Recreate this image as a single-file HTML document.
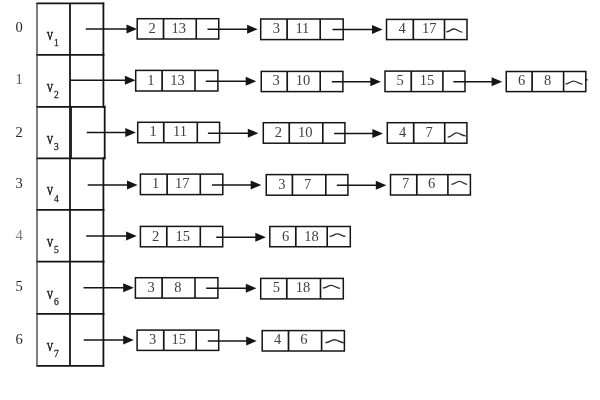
<!DOCTYPE html>
<html><head><meta charset="utf-8"><style>
html,body{margin:0;padding:0;background:#fff;}
body{width:600px;height:400px;overflow:hidden;}
svg{display:block;}
text{font-family:"Liberation Serif",serif;fill:#404040;}
text.v{fill:#1a1a1a;stroke:#1a1a1a;stroke-width:0.6;}
text.lab{fill:#2a2a2a;}
text.l1{fill:#555;}
text.l4{fill:#7a7a7a;}
text.sub{fill:#222;stroke:#333;stroke-width:0.3;}
svg{filter:grayscale(1) blur(0.3px);}
</style></head><body>
<svg width="600" height="400" viewBox="0 0 600 400">
<line x1="36.3" y1="3.4" x2="104.2" y2="3.4" stroke="#151515" stroke-width="1.8"/>
<line x1="36.3" y1="54.8" x2="104.2" y2="54.8" stroke="#151515" stroke-width="1.8"/>
<line x1="36.3" y1="106.8" x2="104.2" y2="106.8" stroke="#151515" stroke-width="1.8"/>
<line x1="36.3" y1="158.3" x2="104.2" y2="158.3" stroke="#151515" stroke-width="1.8"/>
<line x1="36.3" y1="209.8" x2="104.2" y2="209.8" stroke="#151515" stroke-width="1.8"/>
<line x1="36.3" y1="261.7" x2="104.2" y2="261.7" stroke="#151515" stroke-width="1.8"/>
<line x1="36.3" y1="313.9" x2="104.2" y2="313.9" stroke="#151515" stroke-width="1.8"/>
<line x1="36.3" y1="365.8" x2="104.2" y2="365.8" stroke="#151515" stroke-width="1.8"/>
<line x1="37" y1="3.4" x2="37" y2="365.8" stroke="#3a3a3a" stroke-width="1.3"/>
<line x1="70" y1="3.4" x2="70" y2="365.8" stroke="#151515" stroke-width="1.8"/>
<line x1="103.4" y1="2.5" x2="103.4" y2="55.699999999999996" stroke="#151515" stroke-width="1.8"/>
<line x1="103.4" y1="53.9" x2="103.4" y2="107.7" stroke="#151515" stroke-width="1.8"/>
<line x1="104.7" y1="105.89999999999999" x2="104.7" y2="159.20000000000002" stroke="#151515" stroke-width="1.8"/>
<line x1="103.4" y1="157.4" x2="103.4" y2="210.70000000000002" stroke="#151515" stroke-width="1.8"/>
<line x1="103.4" y1="208.9" x2="103.4" y2="262.59999999999997" stroke="#151515" stroke-width="1.8"/>
<line x1="103.4" y1="260.8" x2="103.4" y2="314.79999999999995" stroke="#151515" stroke-width="1.8"/>
<line x1="103.4" y1="313.0" x2="103.4" y2="366.7" stroke="#151515" stroke-width="1.8"/>
<line x1="71.2" y1="106.8" x2="71.2" y2="158.3" stroke="#151515" stroke-width="1.4"/>
<line x1="103" y1="106.8" x2="105.5" y2="106.8" stroke="#151515" stroke-width="1.8"/>
<line x1="103" y1="158.3" x2="105.5" y2="158.3" stroke="#151515" stroke-width="1.8"/>
<text class="lab l0" x="19.00" y="32.30" font-size="14.5" text-anchor="middle">0</text>
<text class="v" x="50" y="40.10" font-size="13.5" text-anchor="middle" transform="translate(50 0) scale(0.66 1) translate(-50 0)">V</text>
<text class="sub" x="56.40" y="46.20" font-size="9.5" text-anchor="middle">1</text>
<text class="lab l1" x="19.00" y="84.00" font-size="14.5" text-anchor="middle">1</text>
<text class="v" x="50" y="91.70" font-size="13.5" text-anchor="middle" transform="translate(50 0) scale(0.66 1) translate(-50 0)">V</text>
<text class="sub" x="56.40" y="97.70" font-size="9.5" text-anchor="middle">2</text>
<text class="lab l2" x="19.00" y="136.50" font-size="14.5" text-anchor="middle">2</text>
<text class="v" x="50" y="143.55" font-size="13.5" text-anchor="middle" transform="translate(50 0) scale(0.66 1) translate(-50 0)">V</text>
<text class="sub" x="56.40" y="149.60" font-size="9.5" text-anchor="middle">3</text>
<text class="lab l3" x="19.00" y="188.30" font-size="14.5" text-anchor="middle">3</text>
<text class="v" x="50" y="195.40" font-size="13.5" text-anchor="middle" transform="translate(50 0) scale(0.66 1) translate(-50 0)">V</text>
<text class="sub" x="56.40" y="202.10" font-size="9.5" text-anchor="middle">4</text>
<text class="lab l4" x="19.00" y="240.00" font-size="14.5" text-anchor="middle">4</text>
<text class="v" x="50" y="247.30" font-size="13.5" text-anchor="middle" transform="translate(50 0) scale(0.66 1) translate(-50 0)">V</text>
<text class="sub" x="56.40" y="253.35" font-size="9.5" text-anchor="middle">5</text>
<text class="lab l5" x="19.00" y="290.50" font-size="14.5" text-anchor="middle">5</text>
<text class="v" x="50" y="299.20" font-size="13.5" text-anchor="middle" transform="translate(50 0) scale(0.66 1) translate(-50 0)">V</text>
<text class="sub" x="56.40" y="304.60" font-size="9.5" text-anchor="middle">6</text>
<text class="lab l6" x="19.00" y="343.50" font-size="14.5" text-anchor="middle">6</text>
<text class="v" x="50" y="351.05" font-size="13.5" text-anchor="middle" transform="translate(50 0) scale(0.66 1) translate(-50 0)">V</text>
<text class="sub" x="56.40" y="357.10" font-size="9.5" text-anchor="middle">7</text>
<line x1="85.8" y1="29" x2="127.5" y2="29" stroke="#151515" stroke-width="1.5"/>
<path d="M126.50 24.50L137.10 29L126.50 33.50Z" fill="#151515"/>
<line x1="70" y1="80.3" x2="125.9" y2="80.3" stroke="#151515" stroke-width="1.5"/>
<path d="M124.90 75.80L135.50 80.3L124.90 84.80Z" fill="#151515"/>
<line x1="86.8" y1="132.5" x2="126.30000000000001" y2="132.5" stroke="#151515" stroke-width="1.5"/>
<path d="M125.30 128.00L135.90 132.5L125.30 137.00Z" fill="#151515"/>
<line x1="87.7" y1="185.1" x2="128.0" y2="185.1" stroke="#151515" stroke-width="1.5"/>
<path d="M127.00 180.60L137.60 185.1L127.00 189.60Z" fill="#151515"/>
<line x1="86.2" y1="235.9" x2="127.15" y2="235.9" stroke="#151515" stroke-width="1.5"/>
<path d="M126.15 231.40L136.75 235.9L126.15 240.40Z" fill="#151515"/>
<line x1="83.5" y1="287.8" x2="124.20000000000002" y2="287.8" stroke="#151515" stroke-width="1.5"/>
<path d="M123.20 283.30L133.80 287.8L123.20 292.30Z" fill="#151515"/>
<line x1="83.7" y1="340.1" x2="124.20000000000002" y2="340.1" stroke="#151515" stroke-width="1.5"/>
<path d="M123.20 335.60L133.80 340.1L123.20 344.60Z" fill="#151515"/>
<line x1="585.8" y1="79.8" x2="587.6" y2="79.8" stroke="#151515" stroke-width="1.4"/>
<rect x="137.2" y="18.7" width="81.55" height="20.30" fill="none" stroke="#151515" stroke-width="1.5"/>
<line x1="163.5" y1="18.7" x2="163.5" y2="39.0" stroke="#151515" stroke-width="1.7"/>
<line x1="196.25" y1="18.7" x2="196.25" y2="39.0" stroke="#151515" stroke-width="1.6"/>
<text id="r0n0a" class="d" x="152.10" y="32.60" font-size="14.5" text-anchor="middle">2</text>
<text id="r0n0b" class="d" x="178.70" y="32.60" font-size="14.5" text-anchor="middle">13</text>
<line x1="207.5" y1="29.3" x2="248.1" y2="29.3" stroke="#151515" stroke-width="1.5"/>
<path d="M247.10 24.80L257.70 29.3L247.10 33.80Z" fill="#151515"/>
<rect x="260.7" y="19.0" width="82.50" height="20.60" fill="none" stroke="#151515" stroke-width="1.5"/>
<line x1="287.1" y1="19.0" x2="287.1" y2="39.6" stroke="#151515" stroke-width="1.7"/>
<line x1="320.2" y1="19.0" x2="320.2" y2="39.6" stroke="#151515" stroke-width="1.6"/>
<text id="r0n1a" class="d" x="276.40" y="33.20" font-size="14.5" text-anchor="middle">3</text>
<text id="r0n1b" class="d" x="302.40" y="33.20" font-size="14.5" text-anchor="middle">11</text>
<line x1="332.5" y1="29.5" x2="373.0" y2="29.5" stroke="#151515" stroke-width="1.5"/>
<path d="M372.00 25.00L382.60 29.5L372.00 34.00Z" fill="#151515"/>
<rect x="386.5" y="19.4" width="80.50" height="20.20" fill="none" stroke="#151515" stroke-width="1.5"/>
<line x1="413.3" y1="19.4" x2="413.3" y2="39.6" stroke="#151515" stroke-width="1.7"/>
<line x1="444.5" y1="19.4" x2="444.5" y2="39.6" stroke="#151515" stroke-width="1.6"/>
<text id="r0n2a" class="d" x="402.10" y="33.10" font-size="14.5" text-anchor="middle">4</text>
<text id="r0n2b" class="d" x="429.20" y="33.10" font-size="14.5" text-anchor="middle">17</text>
<path d="M446.3 31.8C449.76 31.8 450.92 29 454 29C457.36 29 458.62 32.1 462.4 32.1" fill="none" stroke="#2a2a2a" stroke-width="1.35"/>
<rect x="135.7" y="70.4" width="82.20" height="20.60" fill="none" stroke="#151515" stroke-width="1.5"/>
<line x1="162.1" y1="70.4" x2="162.1" y2="91.0" stroke="#151515" stroke-width="1.7"/>
<line x1="195.0" y1="70.4" x2="195.0" y2="91.0" stroke="#151515" stroke-width="1.6"/>
<text id="r1n0a" class="d" x="150.90" y="84.80" font-size="14.5" text-anchor="middle">1</text>
<text id="r1n0b" class="d" x="177.60" y="84.80" font-size="14.5" text-anchor="middle">13</text>
<line x1="205.8" y1="81.3" x2="246.70000000000002" y2="81.3" stroke="#151515" stroke-width="1.5"/>
<path d="M245.70 76.80L256.30 81.3L245.70 85.80Z" fill="#151515"/>
<rect x="261.25" y="71.4" width="81.65" height="20.20" fill="none" stroke="#151515" stroke-width="1.5"/>
<line x1="287.2" y1="71.4" x2="287.2" y2="91.6" stroke="#151515" stroke-width="1.7"/>
<line x1="320.2" y1="71.4" x2="320.2" y2="91.6" stroke="#151515" stroke-width="1.6"/>
<text id="r1n1a" class="d" x="276.00" y="84.80" font-size="14.5" text-anchor="middle">3</text>
<text id="r1n1b" class="d" x="303.00" y="84.80" font-size="14.5" text-anchor="middle">10</text>
<line x1="331.8" y1="81.8" x2="371.29999999999995" y2="81.8" stroke="#151515" stroke-width="1.5"/>
<path d="M370.30 77.30L380.90 81.8L370.30 86.30Z" fill="#151515"/>
<rect x="385.0" y="71.1" width="80.00" height="20.50" fill="none" stroke="#151515" stroke-width="1.5"/>
<line x1="411.25" y1="71.1" x2="411.25" y2="91.6" stroke="#151515" stroke-width="1.7"/>
<line x1="442.9" y1="71.1" x2="442.9" y2="91.6" stroke="#151515" stroke-width="1.6"/>
<text id="r1n2a" class="d" x="400.20" y="85.20" font-size="14.5" text-anchor="middle">5</text>
<text id="r1n2b" class="d" x="427.10" y="85.20" font-size="14.5" text-anchor="middle">15</text>
<line x1="453.3" y1="81.7" x2="492.59999999999997" y2="81.7" stroke="#151515" stroke-width="1.5"/>
<path d="M491.60 77.20L502.20 81.7L491.60 86.20Z" fill="#151515"/>
<rect x="506.25" y="71.5" width="79.55" height="20.10" fill="none" stroke="#151515" stroke-width="1.5"/>
<line x1="532.1" y1="71.5" x2="532.1" y2="91.6" stroke="#151515" stroke-width="1.7"/>
<line x1="563.6" y1="71.5" x2="563.6" y2="91.6" stroke="#151515" stroke-width="1.6"/>
<text id="r1n3a" class="d" x="521.70" y="85.20" font-size="14.5" text-anchor="middle">6</text>
<text id="r1n3b" class="d" x="547.50" y="85.20" font-size="14.5" text-anchor="middle">8</text>
<path d="M565.4 84.1C569.04 84.1 570.26 81.1 573.5 81.1C577.10 81.1 578.45 84.1 582.5 84.1" fill="none" stroke="#2a2a2a" stroke-width="1.35"/>
<rect x="137.7" y="122.3" width="81.90" height="20.40" fill="none" stroke="#151515" stroke-width="1.5"/>
<line x1="163.75" y1="122.3" x2="163.75" y2="142.7" stroke="#151515" stroke-width="1.7"/>
<line x1="197.3" y1="122.3" x2="197.3" y2="142.7" stroke="#151515" stroke-width="1.6"/>
<text id="r2n0a" class="d" x="153.20" y="136.35" font-size="14.5" text-anchor="middle">1</text>
<text id="r2n0b" class="d" x="180.00" y="136.35" font-size="14.5" text-anchor="middle">11</text>
<line x1="207.9" y1="133.2" x2="248.79999999999998" y2="133.2" stroke="#151515" stroke-width="1.5"/>
<path d="M247.80 128.70L258.40 133.2L247.80 137.70Z" fill="#151515"/>
<rect x="263.3" y="122.7" width="81.60" height="20.50" fill="none" stroke="#151515" stroke-width="1.5"/>
<line x1="289.25" y1="122.7" x2="289.25" y2="143.2" stroke="#151515" stroke-width="1.7"/>
<line x1="322.8" y1="122.7" x2="322.8" y2="143.2" stroke="#151515" stroke-width="1.6"/>
<text id="r2n1a" class="d" x="278.30" y="136.80" font-size="14.5" text-anchor="middle">2</text>
<text id="r2n1b" class="d" x="305.30" y="136.80" font-size="14.5" text-anchor="middle">10</text>
<line x1="334.1" y1="133.5" x2="373.4" y2="133.5" stroke="#151515" stroke-width="1.5"/>
<path d="M372.40 129.00L383.00 133.5L372.40 138.00Z" fill="#151515"/>
<rect x="387.3" y="122.7" width="79.60" height="20.50" fill="none" stroke="#151515" stroke-width="1.5"/>
<line x1="413.7" y1="122.7" x2="413.7" y2="143.2" stroke="#151515" stroke-width="1.7"/>
<line x1="444.7" y1="122.7" x2="444.7" y2="143.2" stroke="#151515" stroke-width="1.6"/>
<text id="r2n2a" class="d" x="402.70" y="136.60" font-size="14.5" text-anchor="middle">4</text>
<text id="r2n2b" class="d" x="429.00" y="136.60" font-size="14.5" text-anchor="middle">7</text>
<path d="M447.7 137.1C451.75 137.1 453.10 132.9 456.7 132.9C460.30 132.9 461.65 135.9 465.7 135.9" fill="none" stroke="#2a2a2a" stroke-width="1.35"/>
<rect x="140.4" y="174.1" width="82.40" height="20.50" fill="none" stroke="#151515" stroke-width="1.5"/>
<line x1="167.1" y1="174.1" x2="167.1" y2="194.6" stroke="#151515" stroke-width="1.7"/>
<line x1="200.3" y1="174.1" x2="200.3" y2="194.6" stroke="#151515" stroke-width="1.6"/>
<text id="r3n0a" class="d" x="155.60" y="188.40" font-size="14.5" text-anchor="middle">1</text>
<text id="r3n0b" class="d" x="182.30" y="188.40" font-size="14.5" text-anchor="middle">17</text>
<line x1="212" y1="185" x2="251.70000000000002" y2="185" stroke="#151515" stroke-width="1.5"/>
<path d="M250.70 180.50L261.30 185L250.70 189.50Z" fill="#151515"/>
<rect x="266.25" y="174.6" width="81.65" height="20.60" fill="none" stroke="#151515" stroke-width="1.5"/>
<line x1="292.4" y1="174.6" x2="292.4" y2="195.2" stroke="#151515" stroke-width="1.7"/>
<line x1="325.8" y1="174.6" x2="325.8" y2="195.2" stroke="#151515" stroke-width="1.6"/>
<text id="r3n1a" class="d" x="281.90" y="188.60" font-size="14.5" text-anchor="middle">3</text>
<text id="r3n1b" class="d" x="307.50" y="188.60" font-size="14.5" text-anchor="middle">7</text>
<line x1="336.8" y1="185.3" x2="376.79999999999995" y2="185.3" stroke="#151515" stroke-width="1.5"/>
<path d="M375.80 180.80L386.40 185.3L375.80 189.80Z" fill="#151515"/>
<rect x="390.5" y="174.6" width="79.90" height="20.40" fill="none" stroke="#151515" stroke-width="1.5"/>
<line x1="416.8" y1="174.6" x2="416.8" y2="195.0" stroke="#151515" stroke-width="1.7"/>
<line x1="447.9" y1="174.6" x2="447.9" y2="195.0" stroke="#151515" stroke-width="1.6"/>
<text id="r3n2a" class="d" x="405.50" y="188.40" font-size="14.5" text-anchor="middle">7</text>
<text id="r3n2b" class="d" x="431.60" y="188.40" font-size="14.5" text-anchor="middle">6</text>
<path d="M451.5 184.3C455.14 184.3 456.36 181.3 459.6 181.3C462.60 181.3 463.73 184.3 467.1 184.3" fill="none" stroke="#2a2a2a" stroke-width="1.35"/>
<rect x="140.4" y="226.4" width="82.30" height="20.40" fill="none" stroke="#151515" stroke-width="1.5"/>
<line x1="166.8" y1="226.4" x2="166.8" y2="246.8" stroke="#151515" stroke-width="1.7"/>
<line x1="200.3" y1="226.4" x2="200.3" y2="246.8" stroke="#151515" stroke-width="1.6"/>
<text id="r4n0a" class="d" x="155.50" y="240.85" font-size="14.5" text-anchor="middle">2</text>
<text id="r4n0b" class="d" x="182.70" y="240.85" font-size="14.5" text-anchor="middle">15</text>
<line x1="216.2" y1="237.3" x2="256.29999999999995" y2="237.3" stroke="#151515" stroke-width="1.5"/>
<path d="M255.30 232.80L265.90 237.3L255.30 241.80Z" fill="#151515"/>
<rect x="269.8" y="226.5" width="80.50" height="20.25" fill="none" stroke="#151515" stroke-width="1.5"/>
<line x1="295.8" y1="226.5" x2="295.8" y2="246.75" stroke="#151515" stroke-width="1.7"/>
<line x1="327.2" y1="226.5" x2="327.2" y2="246.75" stroke="#151515" stroke-width="1.6"/>
<text id="r4n1a" class="d" x="285.70" y="240.60" font-size="14.5" text-anchor="middle">6</text>
<text id="r4n1b" class="d" x="311.50" y="240.60" font-size="14.5" text-anchor="middle">18</text>
<path d="M329.6 236.3C333.11 236.3 334.28 233.9 337.4 233.9C340.64 233.9 341.86 236.3 345.5 236.3" fill="none" stroke="#2a2a2a" stroke-width="1.35"/>
<rect x="135.4" y="277.7" width="82.50" height="20.40" fill="none" stroke="#151515" stroke-width="1.5"/>
<line x1="162.1" y1="277.7" x2="162.1" y2="298.1" stroke="#151515" stroke-width="1.7"/>
<line x1="195.0" y1="277.7" x2="195.0" y2="298.1" stroke="#151515" stroke-width="1.6"/>
<text id="r5n0a" class="d" x="151.00" y="291.80" font-size="14.5" text-anchor="middle">3</text>
<text id="r5n0b" class="d" x="177.90" y="291.80" font-size="14.5" text-anchor="middle">8</text>
<line x1="206.25" y1="288.2" x2="246.79999999999998" y2="288.2" stroke="#151515" stroke-width="1.5"/>
<path d="M245.80 283.70L256.40 288.2L245.80 292.70Z" fill="#151515"/>
<rect x="260.7" y="278.4" width="82.60" height="20.50" fill="none" stroke="#151515" stroke-width="1.5"/>
<line x1="286.8" y1="278.4" x2="286.8" y2="298.9" stroke="#151515" stroke-width="1.7"/>
<line x1="320.5" y1="278.4" x2="320.5" y2="298.9" stroke="#151515" stroke-width="1.6"/>
<text id="r5n1a" class="d" x="276.30" y="292.20" font-size="14.5" text-anchor="middle">5</text>
<text id="r5n1b" class="d" x="302.90" y="292.20" font-size="14.5" text-anchor="middle">18</text>
<path d="M322.9 288C326.68 288 327.94 285.3 331.3 285.3C334.78 285.3 336.08 288.3 340 288.3" fill="none" stroke="#2a2a2a" stroke-width="1.35"/>
<rect x="137.1" y="330.1" width="81.60" height="20.30" fill="none" stroke="#151515" stroke-width="1.5"/>
<line x1="163.75" y1="330.1" x2="163.75" y2="350.4" stroke="#151515" stroke-width="1.7"/>
<line x1="196.2" y1="330.1" x2="196.2" y2="350.4" stroke="#151515" stroke-width="1.6"/>
<text id="r6n0a" class="d" x="152.50" y="343.80" font-size="14.5" text-anchor="middle">3</text>
<text id="r6n0b" class="d" x="178.80" y="343.80" font-size="14.5" text-anchor="middle">15</text>
<line x1="207.8" y1="341" x2="247.20000000000002" y2="341" stroke="#151515" stroke-width="1.5"/>
<path d="M246.20 336.50L256.80 341L246.20 345.50Z" fill="#151515"/>
<rect x="262.2" y="330.6" width="82.20" height="20.40" fill="none" stroke="#151515" stroke-width="1.5"/>
<line x1="288.5" y1="330.6" x2="288.5" y2="351.0" stroke="#151515" stroke-width="1.7"/>
<line x1="321.6" y1="330.6" x2="321.6" y2="351.0" stroke="#151515" stroke-width="1.6"/>
<text id="r6n1a" class="d" x="277.70" y="344.20" font-size="14.5" text-anchor="middle">4</text>
<text id="r6n1b" class="d" x="303.80" y="344.20" font-size="14.5" text-anchor="middle">6</text>
<path d="M325.5 342.7C329.55 342.7 330.90 339.7 334.5 339.7C338.22 339.7 339.62 342.7 343.8 342.7" fill="none" stroke="#2a2a2a" stroke-width="1.35"/>
</svg>
</body></html>
